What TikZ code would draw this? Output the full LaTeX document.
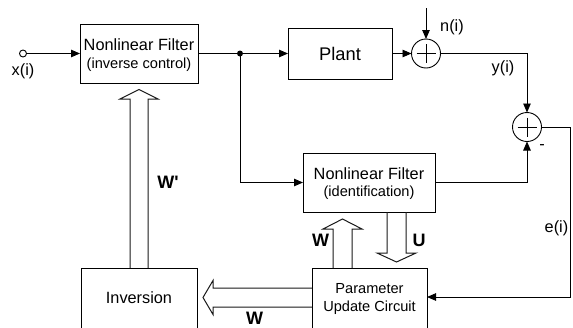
\documentclass[tikz,border=0pt]{standalone}
\usepackage{fontspec}
\setmainfont{Liberation Sans}
\usetikzlibrary{arrows.meta}
\newcommand{\fA}{\fontsize{16.3}{19}\selectfont}
\newcommand{\fB}{\fontsize{14.6}{17}\selectfont}
\newcommand{\fP}{\fontsize{18.3}{21}\selectfont}
\newcommand{\fW}{\fontsize{18}{21}\selectfont\bfseries}
\begin{document}
\begin{tikzpicture}[x=1pt,y=-1pt,
  box/.style={draw,line width=0.9pt,inner sep=0pt,outer sep=0pt},
  sum/.style={draw,circle,minimum size=29pt,inner sep=0pt,outer sep=0pt,line width=0.9pt,
    path picture={\draw[line width=0.9pt] (path picture bounding box.center) ++(-9.5,0) -- ++(19,0);
                  \draw[line width=0.9pt] (path picture bounding box.center) ++(0,-9.5) -- ++(0,19);}},
  txt/.style={anchor=base,inner sep=0pt},
  conn/.style={line width=0.9pt,-{Triangle[length=9pt,width=7.5pt]}},
  hollow/.style={draw=black!90,line width=1pt,line join=miter}]
\clip (0,0) rectangle (573,327);
% boxes
\node[box,minimum width=118pt,minimum height=59pt] (nf1) at (139,53.5) {};
\node[txt,font=\fA] (nf1a) at (139,50) {Nonlinear Filter};
\node[txt,font=\fB] (nf1b) at (139,68) {(inverse control)};
\node[box,minimum width=104pt,minimum height=51pt] (plant) at (340,53.5) {};
\node[txt,font=\fP] (plantt) at (340,60) {Plant};
\node[box,minimum width=132pt,minimum height=59pt] (nf2) at (369,182.5) {};
\node[txt,font=\fA] (nf2a) at (369,179) {Nonlinear Filter};
\node[txt,font=\fB] (nf2b) at (369,196) {(identification)};
\node[box,minimum width=115pt,minimum height=72pt] (puc) at (369.5,304) {};
\node[txt,font=\fB] (puca) at (369.5,293) {Parameter};
\node[txt,font=\fB] (pucb) at (369.5,311) {Update Circuit};
\node[box,minimum width=116pt,minimum height=72pt] (inv) at (139,304) {};
\node[txt,font=\fA] (invt) at (139,303) {Inversion};
% summing junctions
\node[sum] (s1) at (426,53.5) {};
\node[sum] (s2) at (527,127) {};
% input terminal and junction
\node[draw,circle,minimum size=7pt,inner sep=0pt,outer sep=0pt,line width=0.9pt] (xin) at (23,53.5) {};
\coordinate (j) at (240,53.5);
\fill (j) circle (3pt);
\coordinate (ntop) at (426,8);
\coordinate (eright) at (570,297);
% connectors
\draw[conn] (xin) -- (nf1.west);
\draw[conn] (nf1.east) -- (plant.west);
\draw[conn] (plant.east) -- (s1.west);
\draw[conn] (ntop) -- (s1.north);
\draw[conn] (s1.east) -| (s2.north);
\draw[conn] (j) |- (nf2.west);
\draw[conn] (nf2.east) -| (s2.south);
\draw[conn] (s2.east) -| (eright) -- (puc.east |- eright);
% hollow (bus) arrows
\draw[hollow] (130,268) -- (130,99) -- (120,99) -- (139,89.5) -- (158,99) -- (148,99) -- (148,268);
\draw[hollow] (312,288) -- (213,288) -- (213,280.5) -- (203,297.5) -- (213,314.5) -- (213,307) -- (312,307);
\draw[hollow] (333,268) -- (333,229) -- (323,229) -- (342.5,219) -- (362,229) -- (352,229) -- (352,268);
\draw[hollow] (387,212) -- (387,253) -- (377,253) -- (396.5,262) -- (416,253) -- (406,253) -- (406,212);
% labels
\node[txt,font=\fA] (lx) at (23,75) {x(i)};
\node[txt,font=\fA] (ln) at (452,31) {n(i)};
\node[txt,font=\fA] (ly) at (503,72) {y(i)};
\node[txt,font=\fA] (le) at (556.5,232) {e(i)};
\node[txt,font=\fA] (lm) at (542,149) {-};
\node[txt,font=\fW] (lwp) at (168,188) {W\textquotesingle};
\node[txt,font=\fW] (lw1) at (254.5,324) {W};
\node[txt,font=\fW] (lw2) at (320.5,246.5) {W};
\node[txt,font=\fW] (lu) at (419,246.5) {U};
\end{tikzpicture}
\end{document}
